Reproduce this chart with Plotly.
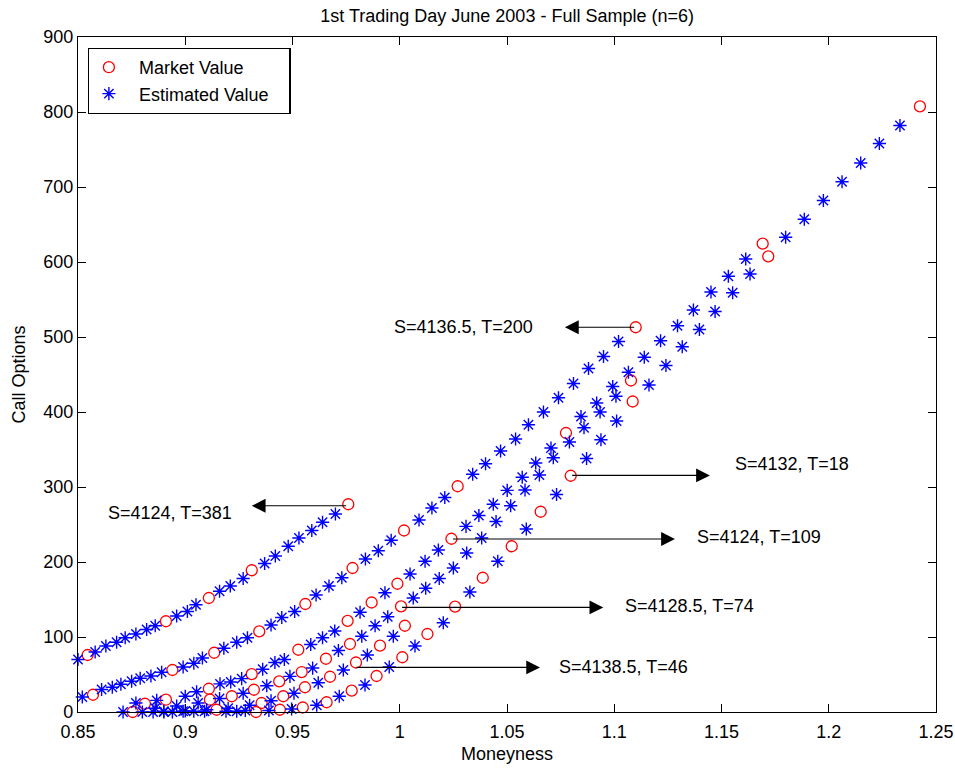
import plotly.graph_objects as go

# ---------------- data ----------------
# S=4124, T=381
A_est_x = [0.850, 0.858, 0.863, 0.868, 0.872, 0.877, 0.882, 0.886, 0.896, 0.901, 0.905, 0.916, 0.921,
           0.927, 0.937, 0.942, 0.948, 0.953, 0.959, 0.964, 0.970]
A_est_y = [70, 80, 88, 93, 99, 104, 110, 115, 128, 134, 143, 161, 168, 178, 198, 208, 221, 232, 242, 253, 264]
A_mkt_x = [0.8545, 0.891, 0.911, 0.931, 0.976]
A_mkt_y = [76, 121, 152, 189, 277]

# S=4136.5, T=200
B_est_x = [0.852, 0.861, 0.866, 0.870, 0.875, 0.879, 0.884, 0.889, 0.899, 0.904, 0.908, 0.918, 0.924,
           0.929, 0.940, 0.945, 0.951, 0.961, 0.967, 0.973, 0.984, 0.990, 0.996, 1.009, 1.015, 1.021,
           1.034, 1.040, 1.047, 1.054, 1.060, 1.067, 1.074, 1.081, 1.088, 1.095, 1.102]
B_est_y = [20, 30, 33, 37, 41, 45, 48, 53, 60, 65, 72, 85, 93, 99, 116, 126, 134, 156, 168, 179, 204, 215,
           229, 256, 272, 286, 317, 331, 348, 364, 383, 400, 419, 438, 458, 474, 494]
B_mkt_x = [0.857, 0.894, 0.9135, 0.9345, 0.956, 0.978, 1.002, 1.027, 1.110]
B_mkt_y = [23, 56, 79, 107.5, 144, 192, 242, 301, 513]

# S=4132, T=18
C_est_x = [0.871, 0.880, 0.885, 0.890, 0.894, 0.899, 0.904, 0.909, 0.919, 0.924, 0.928, 0.939, 0.9496,
           0.9613, 0.9718, 0.9838, 0.9951, 1.0071, 1.0203, 1.0327, 1.0457, 1.059, 1.0731, 1.0871, 1.0938,
           1.1011, 1.1162, 1.1241, 1.1317, 1.1397, 1.147, 1.1552, 1.1633, 1.1799, 1.1886, 1.1975, 1.2062,
           1.2149, 1.2236, 1.2332]
C_est_y = [0, 0, 0, 0, 0, 1, 1, 1, 1, 1, 2, 2, 4, 9, 21, 36, 60, 88, 119, 160, 201, 244, 290, 338, 363,
           388, 436, 462, 487, 510, 534, 559, 584, 633, 657, 682, 707, 732, 758, 782]
C_mkt_x = [0.8755, 0.9146, 0.933, 0.9441, 0.9548, 0.9659, 0.9776, 0.9892, 1.0012, 1.0129, 1.0258, 1.0387,
           1.0522, 1.0657, 1.0797, 1.1086, 1.1718, 1.2425]
C_mkt_y = [0, 3, 0, 3, 6, 13, 28.5, 48, 73, 104, 140.5, 179, 221, 267, 315, 414, 607.5, 807.5]

# S=4124, T=109
D_est_x = [0.877, 0.8867, 0.900, 0.9053, 0.9162, 0.9212, 0.9263, 0.9361, 0.9418, 0.9462, 0.9585, 0.964,
           0.9697, 0.9815, 0.9931, 1.0048, 1.0118, 1.018, 1.0309, 1.0369, 1.0436, 1.0501, 1.0571, 1.0634,
           1.0705, 1.0845, 1.0918, 1.0993, 1.1066, 1.114, 1.1216, 1.1295, 1.1369, 1.1451, 1.1532, 1.1613]
D_est_y = [12, 15.5, 21, 27, 37.5, 40, 44.5, 57, 66, 70, 90, 99, 108, 133, 159, 184, 201, 216, 247.5, 262,
           277, 295.5, 313, 332, 352, 394, 412, 434, 453, 473, 495, 515, 536, 560, 581, 604]
D_mkt_x = [0.8812, 0.891, 0.911, 0.931, 0.9527, 0.9757, 0.9869, 0.9989, 1.0241, 1.0775, 1.1692]
D_mkt_y = [11, 16.4, 31, 50.5, 83, 121.5, 146, 171, 231, 372, 624.5]

# S=4128.5, T=74
E_est_x = [0.886, 0.896, 0.906, 0.916, 0.927, 0.938, 0.9488, 0.9594, 0.9714, 0.9823, 0.9885, 0.9944,
           1.0063, 1.0121, 1.0184, 1.025, 1.0312, 1.0382, 1.0449, 1.0517, 1.0584, 1.0651, 1.0716, 1.0791,
           1.0859, 1.0934, 1.1008]
E_est_y = [5, 8, 12, 18, 25, 35, 47.5, 58.6, 82, 101, 115, 127, 152, 165, 178, 192, 212, 232, 254, 275,
           296, 316, 339, 360, 379, 400, 421]
E_mkt_x = [0.9115, 0.9217, 0.932, 0.9438, 0.9543, 0.9656, 0.9768, 1.0006, 1.1078]
E_mkt_y = [16.4, 21, 29.7, 40.8, 53.3, 71, 90.7, 140.8, 442]

# S=4138.5, T=46
F_est_x = [0.890, 0.900, 0.910, 0.920, 0.930, 0.940, 0.9507, 0.962, 0.9737, 0.9849, 0.997]
F_est_y = [1, 1.5, 3, 5, 9, 15, 25, 39, 56, 76, 101]
F_mkt_x = [0.9356, 0.9457, 0.9558, 0.9675, 0.9796, 0.9908, 1.0024]
F_mkt_y = [12, 21, 33, 47, 66, 88.5, 115]

x_ticks = [0.85, 0.9, 0.95, 1.0, 1.05, 1.1, 1.15, 1.2, 1.25]
x_tick_labels = ["0.85", "0.9", "0.95", "1", "1.05", "1.1", "1.15", "1.2", "1.25"]
y_ticks = [0, 100, 200, 300, 400, 500, 600, 700, 800, 900]
y_tick_labels = [str(v) for v in y_ticks]

labels = ["S=4124, T=381", "S=4136.5, T=200", "S=4132, T=18",
          "S=4124, T=109", "S=4128.5, T=74", "S=4138.5, T=46"]

# ---------------- layout helpers (annotation placement) ----------------
# (tail_x, head_x, arrow_y, text_x, text_y, xanchor)
arrow_layout = [
    (0.9757, 0.931, 275, 0.9227, 266, "right"),
    (1.1100, 1.077, 513, 1.0631, 513, "right"),
    (1.0797, 1.1446, 315.5, 1.1552, 331, "left"),
    (1.0241, 1.1283, 230.7, 1.1377, 233, "left"),
    (1.0004, 1.0949, 139.5, 1.1039, 141, "left"),
    (0.9791, 1.0654, 59.5, 1.0732, 59.5, "left"),
]

FONT = "Liberation Sans, Arial, sans-serif"
FS = 18
NB = "\u00a0"

mkt_x = A_mkt_x + B_mkt_x + C_mkt_x + D_mkt_x + E_mkt_x + F_mkt_x
mkt_y = A_mkt_y + B_mkt_y + C_mkt_y + D_mkt_y + E_mkt_y + F_mkt_y
est_x = A_est_x + B_est_x + C_est_x + D_est_x + E_est_x + F_est_x
est_y = A_est_y + B_est_y + C_est_y + D_est_y + E_est_y + F_est_y

fig = go.Figure()
fig.add_trace(go.Scatter(
    x=mkt_x, y=mkt_y, mode="markers", name=NB * 2 + "Market Value", cliponaxis=False,
    marker=dict(symbol="circle-open", size=11, color="#ff0000", line=dict(width=1.3, color="#ff0000")),
))
fig.add_trace(go.Scatter(
    x=est_x, y=est_y, mode="markers", name=NB * 2 + "Estimated Value" + NB * 3, cliponaxis=False,
    marker=dict(symbol="asterisk-open", size=11, color="#0000ff", line=dict(width=1.4, color="#0000ff")),
))

annotations = []
for (tx, hx, ay, lx, ly, anc), lab in zip(arrow_layout, labels):
    annotations.append(dict(
        x=hx, y=ay, ax=tx, ay=ay, xref="x", yref="y", axref="x", ayref="y",
        text="", showarrow=True, arrowhead=2, arrowsize=2.3, arrowwidth=1.2,
        arrowcolor="black", standoff=0, startstandoff=0,
    ))
    annotations.append(dict(
        x=lx, y=ly, xref="x", yref="y", text=lab, showarrow=False,
        xanchor=anc, yanchor="middle", font=dict(family=FONT, size=FS, color="black"),
    ))

axis_common = dict(
    showline=True, linecolor="black", linewidth=1.2, mirror="ticks",
    ticks="inside", ticklen=8, tickwidth=1.2, tickcolor="black",
    showgrid=False, zeroline=False,
    tickfont=dict(family=FONT, size=FS, color="black"),
)

fig.update_layout(
    width=955, height=769,
    margin=dict(l=78, r=19, t=37, b=57, autoexpand=False),
    paper_bgcolor="white", plot_bgcolor="white",
    title=dict(text="1st Trading Day June 2003 - Full Sample (n=6)", x=0.531, xanchor="center",
               y=0.980, yanchor="middle", font=dict(family=FONT, size=FS, color="black")),
    xaxis=dict(range=[0.85, 1.25], tickvals=x_ticks, ticktext=x_tick_labels, ticklabelstandoff=3,
               title=dict(text="Moneyness", standoff=6, font=dict(family=FONT, size=FS, color="black")),
               **axis_common),
    yaxis=dict(range=[0, 900], tickvals=y_ticks, ticktext=y_tick_labels,
               title=dict(text="Call Options", standoff=12, font=dict(family=FONT, size=FS, color="black")),
               **axis_common),
    legend=dict(x=0.0113, y=0.984, xanchor="left", yanchor="top",
                bordercolor="black", borderwidth=1.2, bgcolor="white",
                font=dict(family=FONT, size=FS, color="black"), itemwidth=30,
                tracegroupgap=0),
    annotations=annotations,
    showlegend=True,
)

fig.write_html("out.html")
